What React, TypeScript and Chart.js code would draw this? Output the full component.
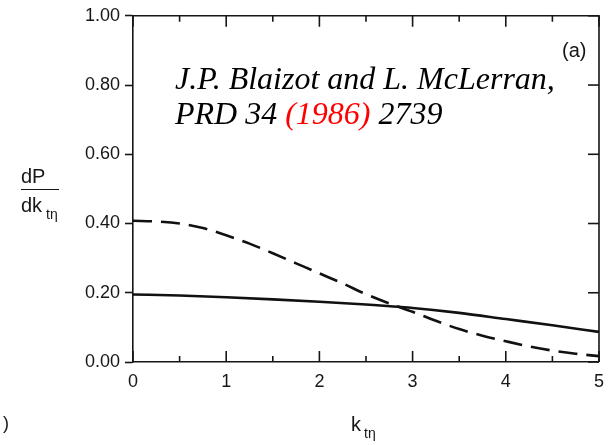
import React, { useEffect, useRef } from "react";
import { Chart, registerables } from "chart.js";

Chart.register(...registerables);

// Momentum distribution dP/dk_tη versus k_tη
const kDashed = [0, 0.25, 0.5, 0.75, 1.0, 1.25, 1.5, 1.75, 2.0, 2.25, 2.5, 2.75, 3.0, 3.25, 3.5, 3.75, 4.0, 4.25, 4.5, 4.75, 5.0];
const dPDashed = [0.408, 0.406, 0.4, 0.387, 0.366, 0.342, 0.314, 0.285, 0.256, 0.227, 0.196, 0.169, 0.145, 0.119, 0.095, 0.076, 0.06, 0.045, 0.033, 0.024, 0.017];

const kSolid = [0, 0.5, 1.0, 1.5, 2.0, 2.5, 3.0, 3.5, 4.0, 4.5, 5.0];
const dPSolid = [0.195, 0.192, 0.187, 0.181, 0.174, 0.166, 0.156, 0.142, 0.124, 0.106, 0.087];

const xMajorTicks = [0, 1, 2, 3, 4, 5];
const xMinorTicks = [0.5, 1.5, 2.5, 3.5, 4.5];
const yMajorTicks = [0, 0.2, 0.4, 0.6, 0.8, 1.0];

const citeLine1 = "J.P. Blaizot and L. McLerran,";
const citeLine2Parts = ["PRD 34 ", "(1986)", " 2739"];
const panelTag = "(a)";

const INK = "#161616";
const SANS = "'Liberation Sans', Arial, sans-serif";
const SERIF = "'Liberation Serif', 'Times New Roman', serif";

const framePlugin = {
  id: "frameAndNotes",
  afterDraw(chart: any) {
    const { ctx, chartArea } = chart;
    const xs = chart.scales.x;
    const ys = chart.scales.y;
    const { left, right, top, bottom } = chartArea;
    ctx.save();
    ctx.strokeStyle = INK;
    ctx.lineWidth = 1.6;
    // top and right frame lines
    ctx.beginPath();
    ctx.moveTo(left, top);
    ctx.lineTo(right, top);
    ctx.lineTo(right, bottom);
    ctx.stroke();

    // inward ticks on the bottom and top edges
    const tickX = (v: number, len: number) => {
      const px = xs.getPixelForValue(v);
      ctx.beginPath();
      ctx.moveTo(px, bottom);
      ctx.lineTo(px, bottom - len);
      ctx.moveTo(px, top);
      ctx.lineTo(px, top + len);
      ctx.stroke();
    };
    xMajorTicks.forEach((v) => tickX(v, 11));
    xMinorTicks.forEach((v) => tickX(v, 6));

    // inward ticks on the right edge
    yMajorTicks.forEach((v) => {
      const py = ys.getPixelForValue(v);
      ctx.beginPath();
      ctx.moveTo(right, py);
      ctx.lineTo(right - 11, py);
      ctx.stroke();
    });

    ctx.fillStyle = INK;
    ctx.textBaseline = "alphabetic";

    // y axis label: dP / dk_tη
    ctx.font = `20px ${SANS}`;
    ctx.textAlign = "left";
    ctx.fillText("dP", 21, 183);
    ctx.lineWidth = 1.2;
    ctx.beginPath();
    ctx.moveTo(21, 189.5);
    ctx.lineTo(59, 189.5);
    ctx.stroke();
    ctx.fillText("dk", 21, 212);
    ctx.font = `14px ${SANS}`;
    ctx.fillText("tη", 46, 219);

    // x axis label: k_tη
    ctx.font = `20px ${SANS}`;
    ctx.fillText("k", 351, 431);
    ctx.font = `14px ${SANS}`;
    ctx.fillText("tη", 364, 438);

    // stray parenthesis at lower left
    ctx.font = `18px ${SANS}`;
    ctx.fillText(")", 3, 429);

    // panel tag
    ctx.font = `20px ${SANS}`;
    ctx.fillText(panelTag, 562, 57);

    // citation
    ctx.font = `italic 32px ${SERIF}`;
    ctx.fillStyle = "#000";
    ctx.fillText(citeLine1, 175, 89);
    let x = 175;
    const colors = ["#000", "#ff0000", "#000"];
    citeLine2Parts.forEach((part, i) => {
      ctx.fillStyle = colors[i];
      ctx.fillText(part, x, 124);
      x += ctx.measureText(part).width;
    });
    ctx.restore();
  },
};

export default function App() {
  const ref = useRef<HTMLCanvasElement | null>(null);

  useEffect(() => {
    if (!ref.current) return;
    const chart = new Chart(ref.current, {
      type: "line",
      data: {
        datasets: [
          {
            label: "dashed",
            data: kDashed.map((k, i) => ({ x: k, y: dPDashed[i] })),
            borderColor: "#111",
            borderWidth: 2.6,
            borderDash: [19, 9],
            pointRadius: 0,
            cubicInterpolationMode: "monotone",
            fill: false,
          },
          {
            label: "solid",
            data: kSolid.map((k, i) => ({ x: k, y: dPSolid[i] })),
            borderColor: "#111",
            borderWidth: 2.6,
            pointRadius: 0,
            cubicInterpolationMode: "monotone",
            fill: false,
          },
        ],
      },
      options: {
        responsive: false,
        animation: false,
        devicePixelRatio: 1,
        layout: { padding: { left: 0, right: 11, top: 15, bottom: 0 } },
        plugins: {
          legend: { display: false },
          tooltip: { enabled: false },
        },
        scales: {
          x: {
            type: "linear",
            min: 0,
            max: 5,
            afterFit: (s: any) => {
              s.height = 83;
            },
            afterBuildTicks: (s: any) => {
              s.ticks = xMajorTicks.map((v) => ({ value: v }));
            },
            ticks: {
              color: INK,
              font: { family: SANS, size: 18 },
              padding: 9,
              maxRotation: 0,
              callback: (v: any) => String(v),
            },
            grid: { display: true, drawOnChartArea: false, drawTicks: false, color: INK },
            border: { display: true, color: INK, width: 1.6 },
          },
          y: {
            type: "linear",
            min: 0,
            max: 1,
            afterFit: (s: any) => {
              s.width = 133;
            },
            afterBuildTicks: (s: any) => {
              s.ticks = yMajorTicks.map((v) => ({ value: v }));
            },
            ticks: {
              color: INK,
              font: { family: SANS, size: 18 },
              padding: 5,
              callback: (v: any) => Number(v).toFixed(2),
            },
            grid: { display: true, drawOnChartArea: false, drawTicks: true, tickLength: 8, tickWidth: 1.6, color: INK },
            border: { display: true, color: INK, width: 1.6 },
          },
        },
      },
      plugins: [framePlugin],
    });
    return () => chart.destroy();
  }, []);

  return (
    <div style={{ position: "absolute", left: 0, top: 0, width: 613, height: 445, background: "#fff" }}>
      <canvas ref={ref} width={613} height={445} style={{ display: "block" }} />
    </div>
  );
}
